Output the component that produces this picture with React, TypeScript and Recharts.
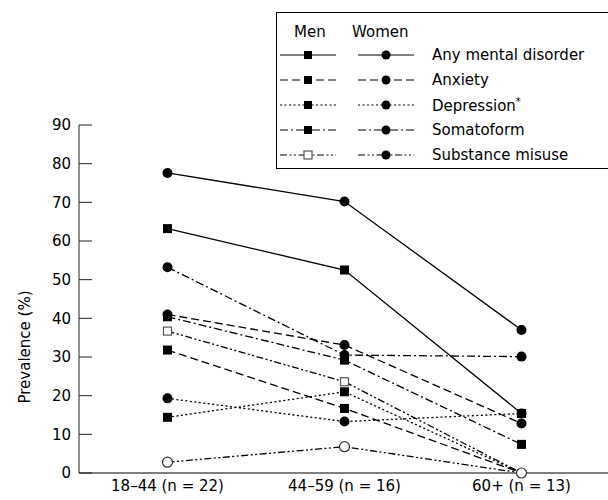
import React from 'react'
import { LineChart, Line, XAxis, YAxis } from 'recharts'

const categories = ['18–44 (n = 22)', '44–59 (n = 16)', '60+ (n = 13)']
const yTicks = [0, 10, 20, 30, 40, 50, 60, 70, 80, 90]
const bandEdges = [1, 2]

// men (squares) and women (circles), per age band
const menAny = [63.2, 52.5, 15.4]
const womenAny = [77.6, 70.2, 37.0]
const menAnxiety = [31.8, 16.7, 0]
const womenAnxiety = [41.0, 33.1, 12.8]
const menDepression = [14.4, 21.0, 0]
const womenDepression = [19.3, 13.3, 15.4]
const menSomatoform = [40.4, 29.2, 7.4]
const womenSomatoform = [53.2, 30.5, 30.1]
const menSubstance = [36.7, 23.6, 0]
const womenSubstance = [2.8, 6.8, 0]

const data = categories.map((name, i) => ({
  name,
  menAny: menAny[i],
  womenAny: womenAny[i],
  menAnxiety: menAnxiety[i],
  womenAnxiety: womenAnxiety[i],
  menDepression: menDepression[i],
  womenDepression: womenDepression[i],
  menSomatoform: menSomatoform[i],
  womenSomatoform: womenSomatoform[i],
  menSubstance: menSubstance[i],
  womenSubstance: womenSubstance[i],
}))

const FONT = '"DejaVu Sans", sans-serif'

const DASH = {
  any: undefined,
  anxiety: '8 4',
  depression: '2 2.5',
  somatoform: '8 3 2 3',
  substance: '7 2.5 2 2.5 2 2.5',
} as const

type Marker = 'square' | 'circle' | 'openSquare' | 'openCircle'

function drawMarker(kind: Marker, cx: number, cy: number, key?: React.Key, small = false) {
  const s = small ? 8 : 9
  const r = small ? 4.5 : 5
  switch (kind) {
    case 'square':
      return <rect key={key} x={cx - s / 2} y={cy - s / 2} width={s} height={s} fill="#000" />
    case 'openSquare':
      return <rect key={key} x={cx - 4} y={cy - 4} width={8} height={8} fill="#fff" stroke="#555" strokeWidth={1.2} />
    case 'circle':
      return <circle key={key} cx={cx} cy={cy} r={r} fill="#000" />
    default:
      return <circle key={key} cx={cx} cy={cy} r={r} fill="#fff" stroke="#333" strokeWidth={1.2} />
  }
}

const makeDot = (kind: Marker) => (props: any) => {
  const { cx, cy, value, index } = props
  if (cx == null || cy == null) return <g key={index} />
  // zero values for men are hidden under the open circle in the original
  if (value === 0 && kind !== 'openCircle') return <g key={index} />
  return drawMarker(kind, cx, cy, index)
}

interface SeriesDef {
  key: string
  dash?: string
  marker: Marker
}

// draw order: the open-circle line last so it sits on top at zero
const series: SeriesDef[] = [
  { key: 'menAny', dash: DASH.any, marker: 'square' },
  { key: 'womenAny', dash: DASH.any, marker: 'circle' },
  { key: 'menAnxiety', dash: DASH.anxiety, marker: 'square' },
  { key: 'womenAnxiety', dash: DASH.anxiety, marker: 'circle' },
  { key: 'menDepression', dash: DASH.depression, marker: 'square' },
  { key: 'womenDepression', dash: DASH.depression, marker: 'circle' },
  { key: 'menSomatoform', dash: DASH.somatoform, marker: 'square' },
  { key: 'womenSomatoform', dash: DASH.somatoform, marker: 'circle' },
  { key: 'menSubstance', dash: DASH.substance, marker: 'openSquare' },
  { key: 'womenSubstance', dash: DASH.substance, marker: 'openCircle' },
]

const legendRows: { label: React.ReactNode; dash?: string; men: Marker; women: Marker }[] = [
  { label: 'Any mental disorder', dash: DASH.any, men: 'square', women: 'circle' },
  { label: 'Anxiety', dash: DASH.anxiety, men: 'square', women: 'circle' },
  { label: <>Depression<sup style={{ fontSize: 10 }}>*</sup></>, dash: DASH.depression, men: 'square', women: 'circle' },
  { label: 'Somatoform', dash: DASH.somatoform, men: 'square', women: 'circle' },
  { label: 'Substance misuse', dash: DASH.substance, men: 'openSquare', women: 'circle' },
]

function LegendSample({ dash, marker }: { dash?: string; marker: Marker }) {
  return (
    <svg width={56} height={14} style={{ display: 'block' }}>
      <line x1={0} y1={7} x2={56} y2={7} stroke="#000" strokeWidth={1.2} strokeDasharray={dash} />
      {drawMarker(marker, 28, 7, undefined, true)}
    </svg>
  )
}

function ChartLegend() {
  return (
    <div
      style={{
        position: 'absolute', left: 276, top: 12, width: 360, height: 157,
        border: '1px solid #000', background: '#fff', fontFamily: FONT, fontSize: 15,
        color: '#000', boxSizing: 'border-box',
      }}
    >
      <div style={{ position: 'absolute', left: 17, top: 10 }}>Men</div>
      <div style={{ position: 'absolute', left: 75, top: 10 }}>Women</div>
      {legendRows.map((row, i) => (
        <div key={i} style={{ position: 'absolute', left: 3, top: 33 + i * 25, display: 'flex', alignItems: 'center', height: 18 }}>
          <LegendSample dash={row.dash} marker={row.men} />
          <div style={{ width: 22 }} />
          <LegendSample dash={row.dash} marker={row.women} />
          <div style={{ width: 18 }} />
          <span style={{ whiteSpace: 'nowrap' }}>{row.label}</span>
        </div>
      ))}
    </div>
  )
}

export default function App() {
  return (
    <div style={{ position: 'absolute', left: 0, top: 0, width: 608, height: 500, overflow: 'hidden', background: '#fff' }}>
      <LineChart
        width={612}
        height={500}
        data={data}
        margin={{ top: 125, right: 2, bottom: 1, left: 19 }}
      >
        {/* boundary ticks between age bands, pointing up */}
        <XAxis
          xAxisId="edges"
          type="number"
          domain={[0, 3]}
          allowDataOverflow
          ticks={bandEdges}
          height={1}
          tick={false}
          axisLine={false}
          tickSize={-13}
          tickLine={{ stroke: '#000', strokeWidth: 1 }}
        />
        <XAxis
          xAxisId="cat"
          dataKey="name"
          scale="band"
          height={25}
          interval={0}
          tickLine={false}
          tickSize={0}
          tickMargin={7}
          axisLine={{ stroke: '#555', strokeWidth: 1.6 }}
          tick={{ fontSize: 15, fill: '#000', fontFamily: FONT }}
        />
        <YAxis
          domain={[0, 90]}
          ticks={yTicks}
          width={60}
          interval={0}
          tickSize={-13}
          tickMargin={21}
          axisLine={{ stroke: '#222', strokeWidth: 1 }}
          tickLine={{ stroke: '#222', strokeWidth: 1 }}
          tick={{ fontSize: 15, fill: '#000', fontFamily: FONT }}
          label={{
            content: (p: any) => {
              const vb = p.viewBox || {}
              const x = (vb.x ?? 19) + 6
              const y = (vb.y ?? 125) + (vb.height ?? 348) / 2 + 48
              return (
                <text
                  x={x} y={y} transform={`rotate(-90 ${x} ${y})`} textAnchor="middle"
                  dominantBaseline="central" fontSize={15} fontFamily={FONT} fill="#000"
                >
                  Prevalence (%)
                </text>
              )
            },
          }}
        />
        {series.map(s => (
          <Line
            key={s.key}
            xAxisId="cat"
            dataKey={s.key}
            stroke="#000"
            strokeWidth={1.3}
            strokeDasharray={s.dash}
            dot={makeDot(s.marker)}
            activeDot={false}
            isAnimationActive={false}
          />
        ))}
      </LineChart>
      <ChartLegend />
    </div>
  )
}
